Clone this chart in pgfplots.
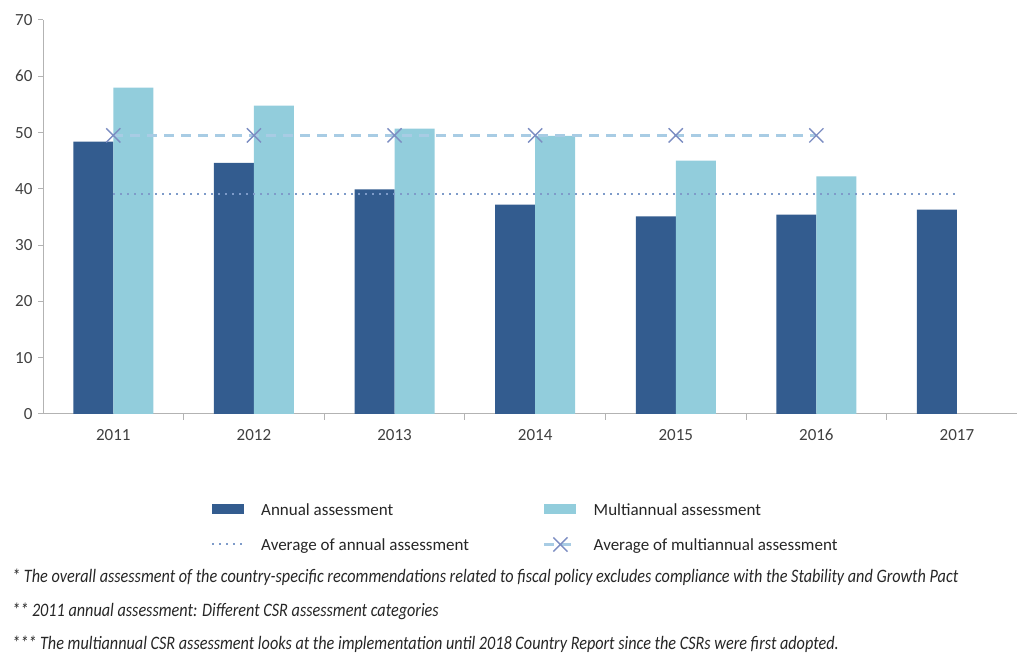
\documentclass[border=0pt]{standalone}
\usepackage{fontspec}
\setmainfont{Carlito}
\usepackage{pgfplots}
\usepackage{pgfplotstable}
\pgfplotsset{compat=1.18}

\definecolor{annual}{HTML}{335C8F}
\definecolor{multi}{HTML}{92CDDC}
\definecolor{avgann}{HTML}{7E9BC9}
\definecolor{avgmulti}{HTML}{A8CCE4}
\definecolor{crossc}{HTML}{7C8DC2}
\definecolor{axisgrey}{HTML}{B3B3B3}
\definecolor{labelgrey}{HTML}{404040}
\definecolor{textdark}{HTML}{262626}

\pgfplotsset{
  barlegend/.style={legend image code/.code={\fill[##1] (0pt,-5pt) rectangle (32pt,5pt);}},
  linelegend/.style={legend image code/.code={\draw[mark repeat=2, mark phase=2, ##1] plot coordinates {(0pt,0pt) (16pt,0pt) (32pt,0pt)};}},
}

% 0 = 2011 ... 6 = 2017
\pgfplotstableread{
x annual
0 48.4
1 44.6
2 39.9
3 37.2
4 35.1
5 35.4
6 36.3
}\annualtab

\pgfplotstableread{
x multi
0 58.0
1 54.8
2 50.7
3 49.4
4 45.0
5 42.2
}\multitab

\pgfplotstableread{
x avg
0 39.1
6 39.1
}\avgannualtab

\pgfplotstableread{
x avg
0 49.5
1 49.5
2 49.5
3 49.5
4 49.5
5 49.5
}\avgmultitab

\newcommand{\legtext}[1]{\makebox[282pt][l]{\strut #1}}
\newcommand{\foot}[1]{\scalebox{0.853}[1]{\itshape\fontsize{19}{22}\selectfont #1}}

\begin{document}
\begin{tikzpicture}
\begin{axis}[
  at={(43pt,241pt)}, anchor=south west,
  scale only axis, width=974pt, height=394pt,
  xmin=-0.5, xmax=6.427, ymin=0, ymax=70,
  axis x line=bottom, axis y line=left,
  axis line style={-, draw=axisgrey, line width=1pt},
  ytick={0,10,...,70},
  xtick={0,...,6},
  xticklabels={2011,2012,2013,2014,2015,2016,2017},
  minor x tick num=1,
  tick align=outside,
  major tick length=5pt, minor tick length=6pt,
  tick style={draw=axisgrey, line width=1pt},
  major x tick style={draw=none},
  ticklabel style={font=\fontsize{17}{20}\selectfont, text=labelgrey},
  x tick label style={anchor=base, yshift=-22pt},
  y tick label style={xshift=-2pt},
  /pgf/number format/assume math mode=true,
  legend columns=2,
  legend style={draw=none, fill=none, at={(0.1725,-0.2209)}, anchor=north west,
    font=\fontsize{17}{20}\selectfont, text=textdark,
    inner sep=0pt, row sep=20pt, nodes={inner sep=0pt},
    /tikz/every odd column/.append style={column sep=16pt},
    /tikz/every even column/.append style={column sep=0pt}},
]
\addplot[ybar, bar width=40pt, bar shift=-20pt, fill=annual, draw=none, barlegend]
  table[x=x, y=annual] {\annualtab};
\addlegendentry{\legtext{Annual assessment}}
\addplot[ybar, bar width=40pt, bar shift=20pt, fill=multi, draw=none, barlegend]
  table[x=x, y=multi] {\multitab};
\addlegendentry{\legtext{Multiannual assessment}}
\addplot[avgann, line width=2pt, dash pattern=on 2pt off 5pt, no marks, linelegend]
  table[x=x, y=avg] {\avgannualtab};
\addlegendentry{\legtext{Average of annual assessment}}
\addplot[avgmulti, line width=2.5pt, dash pattern=on 10pt off 7pt,
  mark=x, mark size=10pt, mark options={draw=crossc, solid, line width=1.4pt}, linelegend]
  table[x=x, y=avg] {\avgmultitab};
\addlegendentry{\legtext{Average of multiannual assessment}}
\end{axis}
\begin{scope}[every node/.style={anchor=base west, inner sep=0pt, text=textdark}]
\node at (12pt,72pt) {\foot{* The overall assessment of the country-specific recommendations related to fiscal policy excludes compliance with the Stability and Growth Pact}};
\node at (12pt,38pt) {\foot{** 2011 annual assessment: Different CSR assessment categories}};
\node at (12pt,5pt) {\foot{*** The multiannual CSR assessment looks at the implementation until 2018 Country Report since the CSRs were first adopted.}};
\end{scope}
\pgfresetboundingbox
\useasboundingbox (0,0) rectangle (1017pt,655pt);
\end{tikzpicture}
\end{document}
